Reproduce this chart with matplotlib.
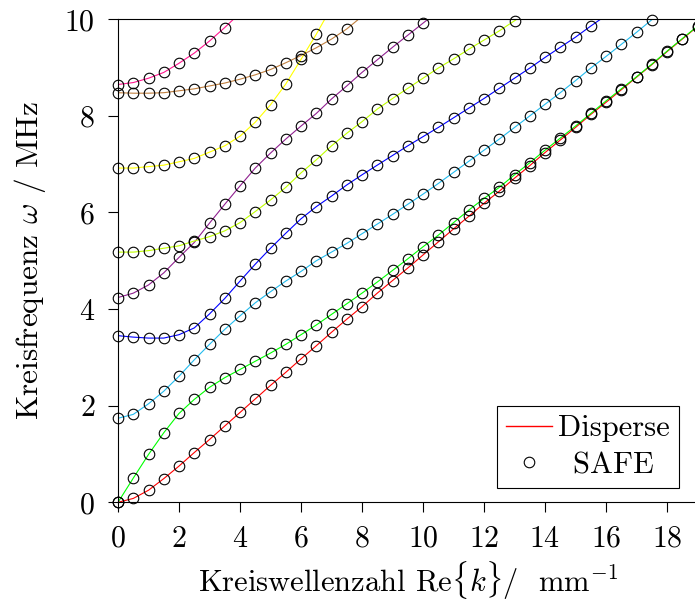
import numpy as np
import matplotlib
matplotlib.use("Agg")
import matplotlib.pyplot as plt
from matplotlib.lines import Line2D

plt.rcParams['font.family'] = 'cmr10'
plt.rcParams['mathtext.fontset'] = 'cm'
plt.rcParams['axes.formatter.use_mathtext'] = True
plt.rcParams['axes.unicode_minus'] = False

# wavenumber grid of the SAFE samples (step 0.5 1/mm)
k_step = 0.5

# angular frequency per mode (MHz)
red = [0.00, 0.08, 0.25, 0.49, 0.75, 1.03, 1.30, 1.58, 1.86, 2.14, 2.42, 2.69, 2.97,
       3.24, 3.52, 3.79, 4.05, 4.33, 4.59, 4.85, 5.12, 5.39, 5.66, 5.92, 6.19, 6.44,
       6.71, 6.97, 7.24, 7.50, 7.76, 8.03, 8.28, 8.54, 8.80, 9.06, 9.33, 9.59, 9.85]
green = [0.00, 0.50, 0.99, 1.44, 1.84, 2.13, 2.38, 2.58, 2.75, 2.92, 3.09, 3.27, 3.47,
         3.67, 3.89, 4.11, 4.33, 4.56, 4.80, 5.04, 5.29, 5.53, 5.79, 6.05, 6.29, 6.52,
         6.78, 7.03, 7.29, 7.54, 7.79, 8.05, 8.31, 8.56, 8.81, 9.07, 9.34, 9.60, 9.86]
cyan = [1.74, 1.82, 2.04, 2.30, 2.61, 2.95, 3.27, 3.58, 3.86, 4.13, 4.36, 4.58, 4.78,
        5.00, 5.18, 5.36, 5.56, 5.76, 5.96, 6.17, 6.38, 6.60, 6.83, 7.06, 7.29, 7.52,
        7.76, 8.00, 8.24, 8.48, 8.73, 8.99, 9.23, 9.48, 9.73, 9.99, 10.24]
blue = [3.45, 3.42, 3.40, 3.40, 3.47, 3.61, 3.90, 4.22, 4.58, 4.93, 5.26, 5.57, 5.87,
        6.12, 6.34, 6.57, 6.78, 6.98, 7.18, 7.38, 7.57, 7.76, 7.96, 8.16, 8.36, 8.57,
        8.78, 8.99, 9.21, 9.42, 9.63, 9.86, 10.08]
purple = [4.24, 4.33, 4.50, 4.75, 5.07, 5.38, 5.78, 6.17, 6.55, 6.92, 7.23, 7.52, 7.79,
          8.05, 8.35, 8.62, 8.90, 9.16, 9.42, 9.67, 9.92, 10.17]
lime = [5.18, 5.18, 5.21, 5.26, 5.31, 5.41, 5.50, 5.62, 5.79, 6.02, 6.26, 6.52, 6.82,
        7.09, 7.38, 7.64, 7.88, 8.14, 8.36, 8.57, 8.78, 8.99, 9.18, 9.38, 9.57, 9.76,
        9.97, 10.17]
yellow = [6.92, 6.92, 6.95, 6.98, 7.05, 7.12, 7.25, 7.38, 7.58, 7.87, 8.23, 8.66, 9.17,
          9.69, 10.25]
brown = [8.48, 8.47, 8.47, 8.48, 8.52, 8.56, 8.62, 8.68, 8.76, 8.85, 8.96, 9.10, 9.25,
         9.41, 9.59, 9.80, 10.06]
pink = [8.65, 8.69, 8.78, 8.90, 9.09, 9.30, 9.55, 9.83, 10.13]

modes = [red, green, cyan, blue, purple, lime, yellow, brown, pink]
colors = ['#ff0000', '#00ff00', '#22bbee', '#0000ff', '#902090',
          '#c0ff00', '#ffff00', '#c08040', '#ff1890']

fig = plt.figure(figsize=(6.95, 6.03), dpi=100)
ax = fig.add_axes([0.1698, 0.1670, 0.8338, 0.8010])

for w, c in zip(modes, colors):
    w = np.array(w)
    k = np.arange(len(w)) * k_step
    ax.plot(k, w, color=c, lw=0.8, zorder=2)
    inside = w <= 10.0
    ax.plot(k[inside], w[inside], ls='none', marker='o', ms=7.6, mfc='none',
            mec='black', mew=0.8, zorder=3, clip_on=False)

ax.set_xlim(0, 19)
ax.set_ylim(0, 10)
ax.set_xticks(np.arange(0, 19, 2))
ax.set_yticks(np.arange(0, 11, 2))
ax.tick_params(direction='out', length=7.5, width=0.8, labelsize=21.5)
ax.tick_params(axis='x', pad=9)
ax.tick_params(axis='y', pad=9)
for s in ax.spines.values():
    s.set_linewidth(0.8)

ax.set_xlabel(r'Kreiswellenzahl Re$\{k\}$/  mm$^{-1}$', fontsize=22, labelpad=5.5)
ax.set_ylabel(r'Kreisfrequenz $\omega$ / MHz', fontsize=22.5, labelpad=12)

handles = [Line2D([], [], color='#ff0000', lw=1.0),
           Line2D([], [], ls='none', marker='o', ms=7.6, mfc='none', mec='black', mew=0.8)]
leg = ax.legend(handles, ['Disperse', r' $\,$SAFE'], loc='lower right',
                bbox_to_anchor=(0.968, 0.0296), borderaxespad=0, fontsize=22,
                fancybox=False, framealpha=1, edgecolor='black', borderpad=0.3,
                handlelength=1.5, handletextpad=0.2, labelspacing=0.3)
leg.get_frame().set_linewidth(0.8)

fig.savefig('out.png', dpi=100)
